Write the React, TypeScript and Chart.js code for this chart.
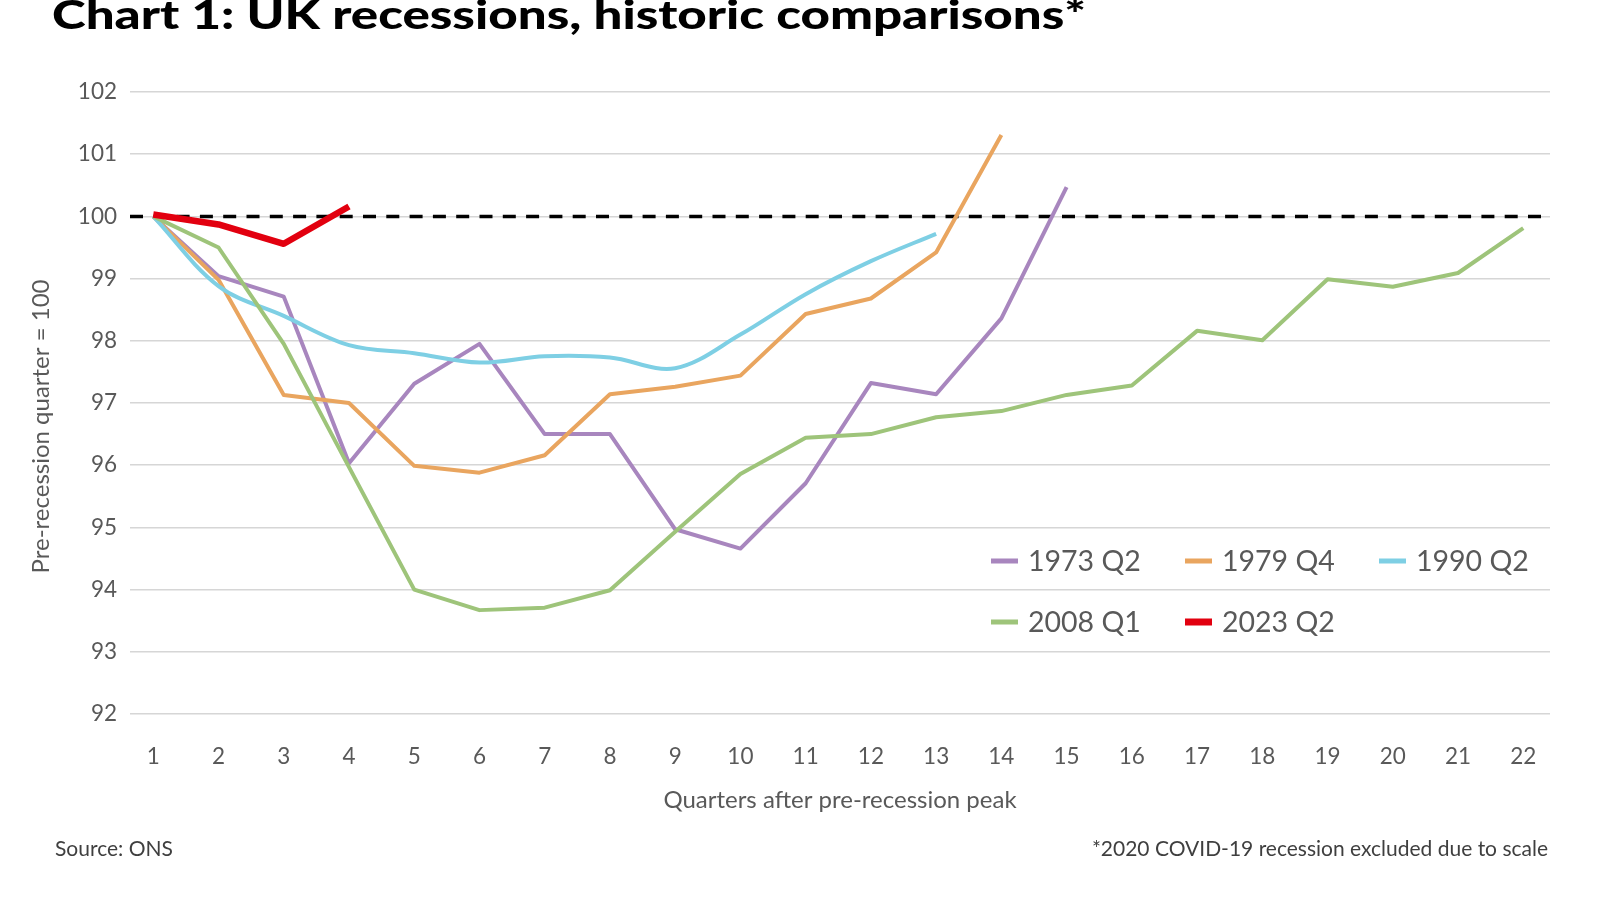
import React, { useEffect, useRef } from "react";
import { Chart, registerables } from "chart.js";

Chart.register(...registerables);

// ---- Data ----
const quarters = [1, 2, 3, 4, 5, 6, 7, 8, 9, 10, 11, 12, 13, 14, 15, 16, 17, 18, 19, 20, 21, 22];
const yTicks = [92, 93, 94, 95, 96, 97, 98, 99, 100, 101, 102];
const baseline = 100;

const seriesNames = ["1973 Q2", "1979 Q4", "1990 Q2", "2008 Q1", "2023 Q2"];
const s1973 = [100, 99.04, 98.71, 96.03, 97.31, 97.95, 96.5, 96.5, 94.97, 94.66, 95.71, 97.32, 97.14, 98.36, 100.47];
const s1979 = [100, 98.98, 97.13, 97.0, 95.99, 95.88, 96.16, 97.14, 97.26, 97.44, 98.43, 98.68, 99.42, 101.31];
const s1990 = [100, 98.88, 98.4, 97.93, 97.8, 97.65, 97.75, 97.73, 97.56, 98.1, 98.75, 99.28, 99.72];
const s2008 = [100, 99.5, 97.95, 95.97, 94.0, 93.67, 93.71, 93.99, 94.93, 95.86, 96.44, 96.5, 96.77, 96.87, 97.13, 97.28, 98.16, 98.01, 98.99, 98.87, 99.09, 99.81];
const s2023 = [100.03, 99.87, 99.56, 100.16];

const seriesValues = [s1973, s1979, s1990, s2008, s2023];
const seriesColors = ["#a886be", "#e9a55f", "#7ecfe4", "#9ec47a", "#e2000f"];
const seriesWidths = [4, 4, 4, 4, 6.5];
const seriesTension = [0, 0, 0.35, 0, 0];

const FONT = "Lato, 'Open Sans', sans-serif";
const GREY = "#595959";

export default function App() {
  const ref = useRef<HTMLCanvasElement | null>(null);

  useEffect(() => {
    const canvas = ref.current;
    if (!canvas) return;

    const refLine = {
      id: "refLine",
      beforeDatasetsDraw(chart: any) {
        const { ctx, chartArea } = chart;
        const y = chart.scales.y.getPixelForValue(baseline);
        ctx.save();
        ctx.strokeStyle = "#000";
        ctx.lineWidth = 3.5;
        ctx.setLineDash([13, 10.3]);
        ctx.beginPath();
        ctx.moveTo(chartArea.left, y);
        ctx.lineTo(chartArea.right, y);
        ctx.stroke();
        ctx.restore();
      },
    };

    const texts = {
      id: "texts",
      afterDraw(chart: any) {
        const { ctx, chartArea } = chart;
        ctx.save();
        // Title
        ctx.fillStyle = "#000";
        ctx.font = `900 40px ${FONT}`;
        ctx.textAlign = "left";
        ctx.textBaseline = "alphabetic";
        const title = "Chart 1: UK recessions, historic comparisons*";
        const w = ctx.measureText(title).width;
        const target = 1034;
        ctx.save();
        ctx.translate(52, 29);
        ctx.scale(target / w, 1);
        ctx.fillText(title, 0, 0);
        ctx.restore();

        // Y axis title
        ctx.fillStyle = GREY;
        ctx.font = `24px ${FONT}`;
        ctx.textAlign = "center";
        ctx.textBaseline = "middle";
        ctx.save();
        ctx.translate(41.7, 426.5);
        ctx.rotate(-Math.PI / 2);
        ctx.fillText("Pre-recession quarter = 100", 0, 0);
        ctx.restore();

        // X axis title
        ctx.fillText("Quarters after pre-recession peak", (chartArea.left + chartArea.right) / 2, 800);

        // Source & footnote
        ctx.fillStyle = "#3f3f3f";
        ctx.font = `21px ${FONT}`;
        ctx.textAlign = "left";
        ctx.fillText("Source: ONS", 55, 849);
        ctx.textAlign = "right";
        ctx.fillText("*2020 COVID-19 recession excluded due to scale", 1548, 849);

        // Legend
        const pos = [
          [991, 561],
          [1185, 561],
          [1379, 561],
          [991, 622],
          [1185, 622],
        ];
        ctx.font = `28.5px ${FONT}`;
        ctx.textAlign = "left";
        ctx.textBaseline = "middle";
        chart.data.datasets.forEach((ds: any, i: number) => {
          const [x, y] = pos[i];
          const h = i === 4 ? 7 : 5;
          ctx.fillStyle = ds.borderColor;
          ctx.fillRect(x, y - h / 2, 27, h);
          ctx.fillStyle = GREY;
          ctx.fillText(ds.label, x + 37, y + 1);
        });
        ctx.restore();
      },
    };

    const datasets = seriesNames.map((name, i) => ({
      label: name,
      data: seriesValues[i].map((v, j) => ({ x: quarters[j], y: v })),
      borderColor: seriesColors[i],
      backgroundColor: seriesColors[i],
      borderWidth: seriesWidths[i],
      tension: seriesTension[i],
      borderJoinStyle: "round" as const,
      borderCapStyle: "butt" as const,
      pointRadius: 0,
      fill: false,
      order: seriesNames.length - i,
      clip: false as any,
    }));

    const chart = new Chart(canvas, {
      type: "line",
      data: { datasets },
      options: {
        animation: false,
        responsive: false,
        maintainAspectRatio: false,
        devicePixelRatio: 1,
        layout: { padding: { top: 92, right: 50, bottom: 0, left: 0 } },
        plugins: {
          legend: { display: false },
          tooltip: { enabled: false },
        },
        elements: { point: { radius: 0 } },
        scales: {
          x: {
            type: "linear",
            min: 0.643,
            max: 22.41,
            afterBuildTicks: (s: any) => {
              s.ticks = quarters.map((v) => ({ value: v }));
            },
            afterFit: (s: any) => {
              s.height = 186;
            },
            grid: { display: false },
            border: { display: false },
            ticks: {
              font: { family: FONT, size: 22.5 },
              color: GREY,
              padding: 21,
              autoSkip: false,
              maxRotation: 0,
            },
          },
          y: {
            min: 92,
            max: 102,
            afterBuildTicks: (s: any) => {
              s.ticks = yTicks.map((v) => ({ value: v }));
            },
            afterFit: (s: any) => {
              s.width = 130;
            },
            grid: { color: "#d6d6d6", lineWidth: 1.5, drawTicks: false },
            border: { display: false },
            ticks: {
              font: { family: FONT, size: 22.5 },
              color: GREY,
              padding: 13,
            },
          },
        },
      },
      plugins: [refLine, texts],
    });

    return () => chart.destroy();
  }, []);

  return (
    <div style={{ position: "absolute", left: 0, top: 0, width: 1600, height: 900, background: "#fff" }}>
      <canvas ref={ref} width={1600} height={900} style={{ width: 1600, height: 900, display: "block" }} />
    </div>
  );
}
